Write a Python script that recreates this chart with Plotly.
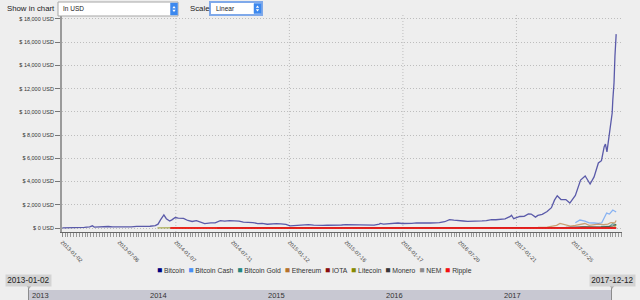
import plotly.graph_objects as go

# ---------------- data ----------------
btc_dates = ["2013-01-02","2013-01-16","2013-02-01","2013-02-15","2013-03-01","2013-03-15","2013-04-01","2013-04-10","2013-04-16",
 "2013-05-01","2013-05-15","2013-06-01","2013-06-15","2013-07-01","2013-07-15","2013-08-01","2013-08-15","2013-09-01","2013-09-15",
 "2013-10-01","2013-10-15","2013-11-01","2013-11-10","2013-11-18","2013-11-29","2013-12-07","2013-12-18","2013-12-25",
 "2014-01-05","2014-01-15","2014-02-01","2014-02-15","2014-03-01","2014-03-15","2014-04-01","2014-04-11","2014-05-01","2014-05-15",
 "2014-06-01","2014-06-15","2014-07-01","2014-07-15","2014-08-01","2014-08-15","2014-09-01","2014-09-15","2014-10-01","2014-10-15",
 "2014-11-01","2014-11-15","2014-12-01","2014-12-15","2015-01-01","2015-01-14","2015-02-01","2015-02-15","2015-03-01","2015-03-15",
 "2015-04-01","2015-04-15","2015-05-01","2015-05-15","2015-06-01","2015-06-15","2015-07-01","2015-07-15","2015-08-01","2015-08-15",
 "2015-09-01","2015-09-15","2015-10-01","2015-10-15","2015-11-01","2015-11-04","2015-11-15","2015-12-01","2015-12-15",
 "2016-01-01","2016-01-15","2016-02-01","2016-02-15","2016-03-01","2016-03-15","2016-04-01","2016-04-15","2016-05-01","2016-05-15",
 "2016-06-01","2016-06-17","2016-07-01","2016-07-15","2016-08-01","2016-08-15","2016-09-01","2016-09-15","2016-10-01","2016-10-15",
 "2016-11-01","2016-11-15","2016-12-01","2016-12-15","2017-01-01","2017-01-05","2017-01-12","2017-02-01","2017-02-15","2017-03-01",
 "2017-03-10","2017-03-24","2017-04-01","2017-04-15","2017-05-01","2017-05-15","2017-05-25","2017-06-03","2017-06-15","2017-07-01",
 "2017-07-14","2017-08-01","2017-08-18","2017-09-02","2017-09-18","2017-10-01","2017-10-15","2017-10-25","2017-11-03","2017-11-07",
 "2017-11-12","2017-11-20","2017-11-29","2017-12-01","2017-12-05","2017-12-08","2017-12-12"]
btc_vals = [13,14.5,20,27,34,47,104,190,80,
 116,114,129,100,89,98,106,99,140,127,
 126,150,206,330,700,1120,800,600,700,
 900,850,830,650,560,630,480,380,450,450,
 630,590,640,620,590,500,480,470,385,395,
 325,375,380,350,315,190,225,235,260,285,
 245,220,235,237,225,235,258,285,280,260,
 228,230,237,255,325,400,330,375,450,
 433,390,375,400,435,415,417,430,450,455,
 540,720,675,665,605,570,570,608,610,640,
 730,710,755,780,998,1100,800,990,1000,1220,
 1200,940,1080,1180,1420,1750,2400,2780,2450,2450,
 2150,2800,4130,4480,3790,4400,5600,5800,7000,7230,
 6550,8180,9900,11000,12500,14800,16700]

bch_dates = ["2017-08-01","2017-08-16","2017-09-01","2017-09-15","2017-10-01","2017-10-15","2017-10-26","2017-11-11","2017-11-20","2017-12-01","2017-12-12"]
bch_vals = [450,690,600,450,430,400,450,1290,1200,1550,1380]

btg_dates = ["2017-10-24","2017-11-01","2017-11-12","2017-11-20","2017-12-01","2017-12-07","2017-12-12"]
btg_vals = [140,140,130,150,370,270,310]

eth_dates = ["2015-08-07","2015-08-20","2015-09-15","2015-10-15","2015-11-15","2015-12-15","2016-01-15","2016-02-15","2016-03-13",
 "2016-04-01","2016-05-01","2016-06-01","2016-06-17","2016-07-01","2016-08-01","2016-09-01","2016-10-01","2016-11-01","2016-12-01",
 "2017-01-01","2017-02-01","2017-03-01","2017-03-15","2017-04-01","2017-05-01","2017-05-20","2017-06-01","2017-06-12","2017-06-25",
 "2017-07-16","2017-08-01","2017-08-15","2017-09-01","2017-09-15","2017-10-01","2017-10-15","2017-11-01","2017-11-15","2017-11-25",
 "2017-12-01","2017-12-07","2017-12-12"]
eth_vals = [2.8,1.4,0.9,0.55,0.95,0.95,1.2,5,14,
 11.5,8.5,14,18,12.5,11,12,13,10.5,8.5,
 8.2,10.7,17,28.5,50,78,140,225,400,280,
 155,225,300,387,230,300,336,290,330,470,
 460,430,650]

iota_dates = ["2017-06-13","2017-07-15","2017-09-01","2017-10-01","2017-11-01","2017-11-25","2017-12-06","2017-12-12"]
iota_vals = [0.6,0.2,0.9,0.5,0.4,1.0,5,4.5]

ltc_dates = ["2013-11-08","2013-11-20","2013-11-29","2013-12-15","2014-01-01","2014-02-01","2014-03-01","2014-04-01","2014-06-01",
 "2014-08-01","2014-10-01","2014-12-01","2015-03-01","2015-07-15","2015-09-01","2016-01-01","2016-06-17","2016-12-01","2017-01-01",
 "2017-03-01","2017-04-01","2017-05-01","2017-05-25","2017-06-15","2017-07-15","2017-08-15","2017-09-01","2017-09-15","2017-10-01",
 "2017-11-01","2017-11-15","2017-12-01","2017-12-07","2017-12-12"]
ltc_vals = [3,10,40,20,24,22,15,10,10,
 6,4,3.5,2,4,2.9,3.5,4.5,4,4.4,
 3.8,7.5,15,28,38,43,48,72,45,52,
 55,66,88,100,300]

xmr_dates = ["2014-05-21","2014-08-01","2015-01-01","2016-01-01","2016-04-01","2016-08-25","2017-01-01","2017-04-01","2017-05-15",
 "2017-07-01","2017-08-25","2017-10-01","2017-11-01","2017-11-20","2017-12-01","2017-12-12"]
xmr_vals = [2,2.5,0.45,0.45,1.2,10,14,22,35,45,115,90,88,140,180,300]

nem_dates = ["2015-04-01","2016-01-01","2016-06-01","2017-01-01","2017-04-01","2017-06-01","2017-09-01","2017-12-12"]
nem_vals = [0.0003,0.0001,0.01,0.004,0.05,0.25,0.3,0.6]

xrp_dates = ["2013-12-20","2014-06-01","2015-01-01","2016-01-01","2017-01-01","2017-04-01","2017-05-15","2017-08-01","2017-12-12"]
xrp_vals = [0.02,0.005,0.02,0.006,0.006,0.03,0.3,0.17,0.45]

series = [
    ("Bitcoin", "#000080", btc_dates, btc_vals),
    ("Bitcoin Cash", "#4a8ff5", bch_dates, bch_vals),
    ("Bitcoin Gold", "#24867f", btg_dates, btg_vals),
    ("Ethereum", "#b5722c", eth_dates, eth_vals),
    ("IOTA", "#8b0d0d", iota_dates, iota_vals),
    ("Litecoin", "#878a00", ltc_dates, ltc_vals),
    ("Monero", "#383838", xmr_dates, xmr_vals),
    ("NEM", "#8c8c8c", nem_dates, nem_vals),
    ("Ripple", "#f21010", xrp_dates, xrp_vals),
]

tick_dates = ["2013-01-02","2013-07-06","2014-01-07","2014-07-11","2015-01-12","2015-07-16",
              "2016-01-17","2016-07-20","2017-01-21","2017-07-25"]
grid_dates = ["2014-01-07","2015-01-12","2016-01-17","2017-01-21"]
years = ["2013","2014","2015","2016","2017"]
slider_start = "2013-01-02"
slider_end = "2017-12-12"

# ---------------- layout helpers ----------------
W, H = 640, 300
ML, MR, MT, MB = 28, 18, 15, 0
PW = W - ML - MR
PH = H - MT - MB
def px(x): return (x - ML) / PW
def py(y): return (H - MB - y) / PH

FONT = "Liberation Sans, Arial, sans-serif"
BG = "#eeeeee"
DOT = "1px,2px"

fig = go.Figure()

for name, color, d, v in series:
    fig.add_trace(go.Scatter(
        x=d, y=v, name=name, mode="lines",
        line=dict(color=color, width=2 if name == "Ripple" else 1.3),
        opacity=0.85 if name == "Ripple" else 0.62,
        showlegend=False, hoverinfo="x+y+name"))

# slider bar
fig.add_trace(go.Scatter(x=[slider_start, slider_end], y=[1, 1], mode="lines",
                         fill="tozeroy", fillcolor="#c8c8d2", line=dict(width=0),
                         xaxis="x2", yaxis="y2", hoverinfo="skip", showlegend=False))

shapes = []
# vertical dotted grid lines
for gd in grid_dates:
    shapes.append(dict(type="line", xref="x", yref="y domain", x0=gd, x1=gd, y0=0, y1=1,
                       line=dict(color="#bdbdbd", width=1, dash=DOT), layer="below"))

# slider handles
for sd in (slider_start, slider_end):
    shapes.append(dict(type="line", xref="x2", yref="paper", x0=sd, x1=sd,
                       y0=py(300), y1=py(287.5), line=dict(color="#8c8c8c", width=2)))
for hx in (29, 612):
    shapes.append(dict(type="path", xref="paper", yref="paper",
                       path=f"M {px(hx-3)},{py(285)} L {px(hx+3)},{py(285)} L {px(hx)},{py(289)} Z",
                       fillcolor="#a8a8a8", line=dict(width=0)))

# top dropdown boxes
def rect(x0, y0, x1, y1, fill, lc, lw):
    return dict(type="rect", xref="paper", yref="paper", x0=px(x0), x1=px(x1), y0=py(y1), y1=py(y0),
                fillcolor=fill, line=dict(color=lc, width=lw))
shapes.append(rect(58, 2, 178, 16, "#ffffff", "#a6a6a6", 1))
shapes.append(rect(170.5, 3, 177.5, 15, "#3c88ee", "#3c88ee", 0.5))
shapes.append(rect(210, 2, 262, 15, "#ffffff", "#7fa9ea", 2))
shapes.append(rect(254, 3.5, 261, 13.5, "#3c88ee", "#3c88ee", 0.5))
for cx, cy in ((174, 9), (257.5, 8.5)):
    shapes.append(dict(type="path", xref="paper", yref="paper",
                       path=f"M {px(cx-1.7)},{py(cy-0.8)} L {px(cx+1.7)},{py(cy-0.8)} L {px(cx)},{py(cy-3)} Z",
                       fillcolor="white", line=dict(width=0)))
    shapes.append(dict(type="path", xref="paper", yref="paper",
                       path=f"M {px(cx-1.7)},{py(cy+0.8)} L {px(cx+1.7)},{py(cy+0.8)} L {px(cx)},{py(cy+3)} Z",
                       fillcolor="white", line=dict(width=0)))

annotations = []
def ann(text, x, y, size, color="#222", xanchor="left", **kw):
    d = dict(text=text, xref="paper", yref="paper", x=px(x), y=py(y), showarrow=False,
             xanchor=xanchor, yanchor="middle", font=dict(family=FONT, size=size, color=color))
    d.update(kw)
    return d
annotations.append(ann("Show in chart", 5, 8.5, 7.8, "#1a1a1a"))
annotations.append(ann("In USD", 61, 9, 6.5, "#1a1a1a"))
annotations.append(ann("Scale", 188, 8.5, 7.8, "#1a1a1a"))
annotations.append(ann("Linear", 214, 9, 6.5, "#1a1a1a"))

# legend (compact, as in reference)
leg = "&nbsp;&nbsp;".join(
    f'<span style="color:{c};font-size:8.5px">■</span>&nbsp;{n}' for n, c, _, _ in series)
annotations.append(ann(leg, 314, 269.5, 6.8, "#333333", xanchor="center"))

# slider labels
for yr in years:
    annotations.append(dict(text=yr, xref="x2", yref="paper",
                            x=max(f"{yr}-01-01", slider_start), y=py(295.5),
                            xanchor="left", yanchor="middle", xshift=2, showarrow=False,
                            font=dict(family=FONT, size=7.5, color="#333")))
for sd in (slider_start, slider_end):
    annotations.append(dict(text=sd, xref="x2", yref="paper", x=sd, y=py(280.5),
                            xanchor="center", yanchor="middle", showarrow=False,
                            bgcolor="#d3d3d3", borderpad=1.2,
                            font=dict(family=FONT, size=8.2, color="#222")))

fig.update_layout(
    width=W, height=H, margin=dict(l=ML, r=MR, t=MT, b=MB, autoexpand=False),
    paper_bgcolor=BG, plot_bgcolor=BG, template="none", showlegend=False,
    font=dict(family=FONT, color="#333"),
    xaxis=dict(domain=[px(62), 1], type="date", range=["2013-01-01", "2017-12-31"],
               tickmode="array", tickvals=tick_dates, ticktext=tick_dates, tickangle=45,
               tickfont=dict(size=5.5, color="#444"), showgrid=False, zeroline=False,
               showline=True, linecolor="#666", linewidth=1,
               ticks="outside", ticklen=4, tickcolor="#888", tickwidth=1,
               minor=dict(tickmode="linear", tick0="2013-01-02", dtick=799200000,
                          ticks="outside", ticklen=4, tickcolor="#999", tickwidth=1, showgrid=False),
               automargin=False, anchor="y"),
    yaxis=dict(domain=[py(232), 1], range=[-344, 18344], tickmode="linear", tick0=0, dtick=2000,
               tickprefix="$ ", ticksuffix=" USD", tickformat=",d", separatethousands=True,
               tickfont=dict(size=5.5, color="#333"), showgrid=True, gridcolor="#bdbdbd",
               griddash=DOT, gridwidth=1, zeroline=False,
               showline=True, linecolor="#9a9a9a", linewidth=2,
               ticks="outside", ticklen=5, tickcolor="#777", automargin=False, anchor="x"),
    xaxis2=dict(domain=[px(28), px(612)], type="date", range=[slider_start, slider_end],
                visible=False, anchor="y2", fixedrange=True),
    yaxis2=dict(domain=[0, py(290)], range=[0, 1], visible=False, anchor="x2", fixedrange=True),
    shapes=shapes, annotations=annotations,
)

fig.write_html("out.html")
